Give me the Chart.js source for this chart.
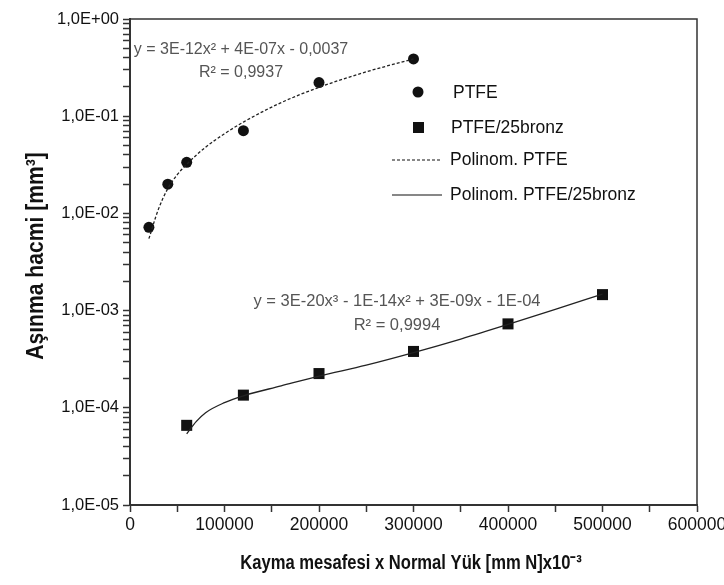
<!DOCTYPE html>
<html>
<head>
<meta charset="utf-8">
<script src="https://cdn.jsdelivr.net/npm/chart.js@4.4.1/dist/chart.umd.min.js"></script>
<style>
html,body{margin:0;padding:0;background:#fff;}
#wrap{position:relative;width:724px;height:585px;}
</style>
</head>
<body>
<div id="wrap"><canvas id="c" width="724" height="585"></canvas></div>
<script>
// ---- data ----
const ptfeX = [20000, 40000, 60000, 120000, 200000, 300000];
const ptfeY = [0.0072, 0.020, 0.0335, 0.071, 0.222, 0.388];
const bronzX = [60000, 120000, 200000, 300000, 400000, 500000];
const bronzY = [0.000066, 0.000135, 0.000225, 0.00038, 0.00073, 0.00146];
// trendlines as drawn in the picture
const ptfeTrendX = [20000, 30000, 40000, 50000, 60000, 80000, 100000, 120000, 160000, 200000, 250000, 300000];
const ptfeTrendY = [0.0055, 0.011, 0.018, 0.025, 0.032, 0.048, 0.066, 0.087, 0.138, 0.198, 0.286, 0.388];
const bronzTrendX = [60000, 70000, 80000, 100000, 120000, 160000, 200000, 250000, 300000, 350000, 400000, 450000, 500000];
const bronzTrendY = [0.000054, 0.000072, 0.000089, 0.000113, 0.000133, 0.000168, 0.000212, 0.000275, 0.00037, 0.00051, 0.00072, 0.00103, 0.00148];
const xTickLabels = ['0', '100000', '200000', '300000', '400000', '500000', '600000'];
const yTickLabels = ['1,0E-05', '1,0E-04', '1,0E-03', '1,0E-02', '1,0E-01', '1,0E+00'];
const seriesNames = ['PTFE', 'PTFE/25bronz', 'Polinom. PTFE', 'Polinom. PTFE/25bronz'];
const eqPTFE = ['y = 3E-12x\u00B2 + 4E-07x - 0,0037', 'R\u00B2 = 0,9937'];
const eqBronz = ['y = 3E-20x\u00B3 - 1E-14x\u00B2 + 3E-09x - 1E-04', 'R\u00B2 = 0,9994'];
const xTitle = 'Kayma mesafesi x Normal Y\u00FCk [mm N]x10\u207B\u00B3';
const yTitle = 'A\u015F\u0131nma hacmi [mm\u00B3]';

const pts = (xs, ys) => xs.map((x, i) => ({x: x, y: ys[i]}));
const INK = '#111';
const AX = '#333';

const decorPlugin = {
  id: 'decor',
  afterDraw(chart) {
    const ctx = chart.ctx;
    const a = chart.chartArea;
    ctx.save();
    // frame top/right
    ctx.strokeStyle = AX;
    ctx.lineWidth = 1.5;
    ctx.beginPath();
    ctx.moveTo(a.left, a.top); ctx.lineTo(a.right, a.top); ctx.lineTo(a.right, a.bottom);
    ctx.stroke();
    // equations
    ctx.fillStyle = '#555';
    ctx.textAlign = 'center';
    ctx.textBaseline = 'middle';
    ctx.font = '16px "Liberation Sans", Arial, sans-serif';
    ctx.fillText(eqPTFE[0], 241, 50);
    ctx.fillText(eqPTFE[1], 241, 73);
    ctx.font = '16.5px "Liberation Sans", Arial, sans-serif';
    ctx.fillText(eqBronz[0], 397, 301);
    ctx.fillText(eqBronz[1], 397, 325);
    // legend
    ctx.fillStyle = INK;
    ctx.strokeStyle = INK;
    ctx.font = '17.5px "Liberation Sans", Arial, sans-serif';
    ctx.textAlign = 'left';
    ctx.beginPath(); ctx.arc(418, 92, 5.5, 0, Math.PI * 2); ctx.fill();
    ctx.fillText(seriesNames[0], 453, 93);
    ctx.fillRect(413, 122, 11, 11);
    ctx.fillText(seriesNames[1], 451, 128);
    ctx.lineWidth = 1.2;
    ctx.setLineDash([3, 2]);
    ctx.beginPath(); ctx.moveTo(392, 160); ctx.lineTo(442, 160); ctx.stroke();
    ctx.setLineDash([]);
    ctx.beginPath(); ctx.moveTo(392, 195); ctx.lineTo(442, 195); ctx.stroke();
    ctx.fillText(seriesNames[2], 450, 160);
    ctx.fillText(seriesNames[3], 450, 195);
    // axis titles (condensed bold)
    ctx.textAlign = 'center';
    ctx.font = 'bold 20px "Liberation Sans", Arial, sans-serif';
    ctx.save();
    ctx.translate(411, 563);
    ctx.scale(0.83, 1);
    ctx.fillText(xTitle, 0, 0);
    ctx.restore();
    ctx.font = 'bold 24px "Liberation Sans", Arial, sans-serif';
    ctx.translate(36, 256);
    ctx.rotate(-Math.PI / 2);
    ctx.scale(0.88, 1);
    ctx.fillText(yTitle, 0, 0);
    ctx.restore();
  }
};

new Chart(document.getElementById('c'), {
  type: 'scatter',
  data: {
    datasets: [
      {label: seriesNames[2], type: 'line', data: pts(ptfeTrendX, ptfeTrendY), borderColor: '#222', borderWidth: 1.3, borderDash: [3, 2], pointRadius: 0, cubicInterpolationMode: 'monotone', fill: false},
      {label: seriesNames[3], type: 'line', data: pts(bronzTrendX, bronzTrendY), borderColor: '#222', borderWidth: 1.3, pointRadius: 0, cubicInterpolationMode: 'monotone', fill: false},
      {label: seriesNames[0], data: pts(ptfeX, ptfeY), pointStyle: 'circle', pointRadius: 5.5, backgroundColor: INK, borderColor: INK, borderWidth: 0},
      {label: seriesNames[1], data: pts(bronzX, bronzY), pointStyle: 'rect', pointRadius: 7.8, backgroundColor: INK, borderColor: INK, borderWidth: 0}
    ]
  },
  options: {
    responsive: false,
    animation: false,
    layout: {padding: {top: 19, right: 27, left: 0, bottom: 0}},
    plugins: {legend: {display: false}, tooltip: {enabled: false}},
    scales: {
      x: {
        type: 'linear', min: 0, max: 600000,
        afterFit(s) { s.height = 80; s.paddingLeft = 0; s.paddingRight = 0; },
        afterBuildTicks(s) {
          const t = [];
          for (let v = 0; v <= 600000; v += 50000) t.push({value: v});
          s.ticks = t;
        },
        ticks: {
          autoSkip: false, maxRotation: 0, color: INK, padding: 3,
          font: {family: '"Liberation Sans", Arial, sans-serif', size: 17.5},
          callback: (v) => (v % 100000 === 0 ? xTickLabels[v / 100000] : '')
        },
        grid: {drawOnChartArea: false, color: AX, tickLength: 7, tickWidth: 1.5},
        border: {display: true, color: AX, width: 2}
      },
      y: {
        type: 'logarithmic', min: 1e-5, max: 1,
        afterFit(s) { s.width = 130; },
        afterBuildTicks(s) {
          const t = [];
          for (let d = -5; d <= 0; d++) {
            for (let m = 1; m <= 9; m++) {
              const v = m * Math.pow(10, d);
              if (v <= 1.0000001) t.push({value: v, major: m === 1});
            }
          }
          s.ticks = t;
        },
        ticks: {
          autoSkip: false, color: INK, padding: 4,
          font: {family: '"Liberation Sans", Arial, sans-serif', size: 16.5},
          callback: function (v) {
            const e = Math.log10(v);
            const r = Math.round(e);
            if (Math.abs(e - r) < 1e-6) return yTickLabels[r + 5];
            return '';
          }
        },
        grid: {drawOnChartArea: false, color: AX, tickLength: 7, tickWidth: 1.5},
        border: {display: true, color: AX, width: 2}
      }
    }
  },
  plugins: [decorPlugin]
});
</script>
</body>
</html>
